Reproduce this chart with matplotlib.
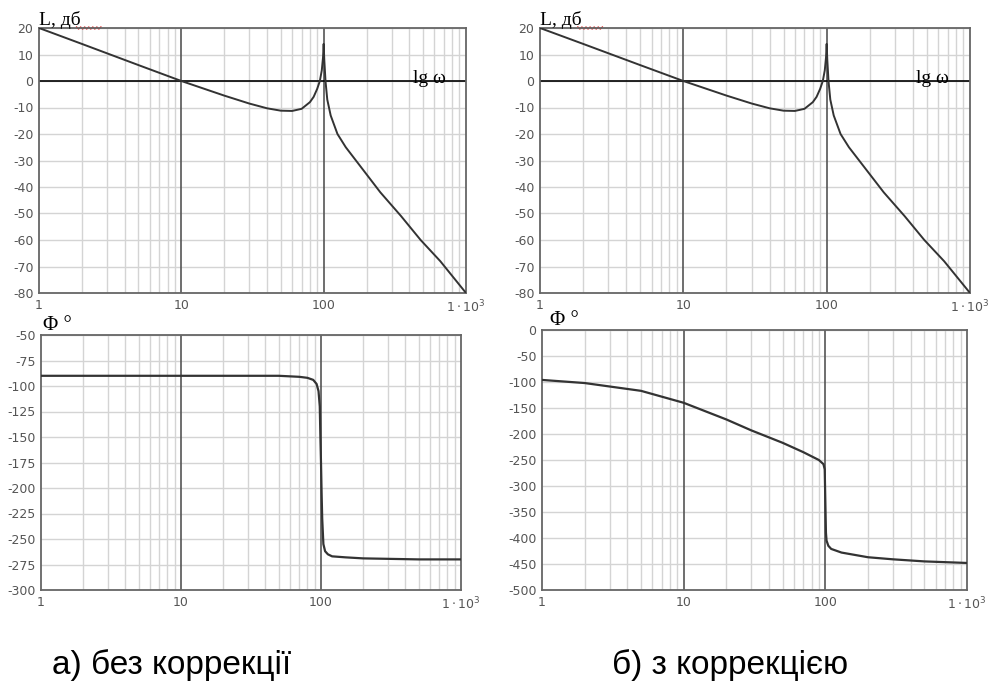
import numpy as np
import matplotlib.pyplot as plt
from matplotlib.lines import Line2D

plt.rcParams['axes.unicode_minus'] = False

# magnitude, dB (same for both cases)
w_mag = [1, 2, 5, 10, 20, 30, 40, 50, 60, 70, 80, 85, 90, 94, 97, 99, 100, 101, 103, 106,
         112, 125, 143, 180, 250, 350, 480, 660, 1000]
L_mag = [20, 14, 6, 0, -5.5, -8.5, -10.3, -11.2, -11.3, -10.5, -8, -6, -3, 0, 4, 9, 14, 8, 0, -7,
         -13, -20, -25, -32, -42, -51, -60, -68, -80]

# phase without correction, deg
w_ph_a = [1, 10, 50, 70, 80, 88, 93, 96, 98, 99, 100, 101, 102, 104, 107, 112, 120, 150, 200, 500, 1000]
ph_a = [-90, -90, -90, -91, -92, -94, -98, -105, -120, -150, -175, -205, -230, -255, -262, -265,
        -267, -268, -269, -270, -270]

# phase with correction, deg
w_ph_b = [1, 2, 5, 10, 20, 30, 50, 70, 90, 97, 99, 100, 101, 102, 105, 110, 130, 200, 300, 500, 1000]
ph_b = [-96, -102, -117, -140, -172, -193, -217, -235, -250, -258, -268, -330, -390, -405, -415,
        -421, -428, -437, -441, -445, -448]

mag_ticks = list(range(20, -81, -10))
pha_ticks = list(range(-50, -301, -25))
phb_ticks = list(range(0, -501, -50))

xtick_vals = [1, 10, 100, 1000]
xtick_labels = ['1', '10', '100', r'$1\cdot10^3$']

fig = plt.figure(figsize=(9.9, 6.93), dpi=100)

boxes = {
    'ta': [39 / 990, 1 - 293 / 693, 427 / 990, 265 / 693],
    'tb': [540 / 990, 1 - 293 / 693, 430 / 990, 265 / 693],
    'ba': [41 / 990, 1 - 590 / 693, 420 / 990, 255 / 693],
    'bb': [542 / 990, 1 - 590 / 693, 425 / 990, 260 / 693],
}


def style_axes(ax, yticks):
    ax.set_xscale('log')
    ax.set_xlim(1, 1000)
    ax.set_ylim(yticks[-1], yticks[0])
    ax.set_yticks(yticks)
    ax.set_xticks(xtick_vals)
    ax.set_xticklabels(xtick_labels)
    ax.xaxis.set_minor_formatter(plt.NullFormatter())
    ax.tick_params(which='both', length=0, labelsize=9, colors='#555555', pad=4)
    for sp in ax.spines.values():
        sp.set_color('#666666')
        sp.set_linewidth(1.3)
    # light grid
    for y in yticks:
        ax.axhline(y, color='#d4d4d4', lw=1, zorder=0)
    for dec in [1, 10, 100]:
        for k in range(2, 10):
            ax.axvline(dec * k, color='#d4d4d4', lw=1, zorder=0)
    for d in [10, 100]:
        ax.axvline(d, color='#555555', lw=1.2, zorder=1)


def squiggle(ax, x0, x1, y):
    xs = np.linspace(x0, x1, 13)
    ys = y + np.where(np.arange(13) % 2 == 0, 0.004, -0.004)
    ax.add_line(Line2D(xs, ys, transform=ax.transAxes, color='#dd2222', lw=0.9, clip_on=False))


for key in ['ta', 'tb']:
    ax = fig.add_axes(boxes[key])
    style_axes(ax, mag_ticks)
    ax.axhline(0, color='black', lw=1.2, zorder=1)
    ax.plot(w_mag, L_mag, color='#333333', lw=1.4, zorder=3)
    ax.text(0.875, 0.81, 'lg ω', transform=ax.transAxes, fontsize=14,
            family='Liberation Serif', ha='left', va='center')
    ax.text(0.0, 0.995, 'L, дб', transform=ax.transAxes, fontsize=14,
            family='Liberation Serif', ha='left', va='bottom')
    squiggle(ax, 0.088, 0.145, 1.0)

ax = fig.add_axes(boxes['ba'])
style_axes(ax, pha_ticks)
ax.plot(w_ph_a, ph_a, color='#333333', lw=1.6, zorder=3)
ax.text(0.005, 1.0, 'Φ °', transform=ax.transAxes, fontsize=15,
        family='Liberation Serif', ha='left', va='bottom')

ax = fig.add_axes(boxes['bb'])
style_axes(ax, phb_ticks)
ax.plot(w_ph_b, ph_b, color='#333333', lw=1.6, zorder=3)
ax.text(0.02, 1.0, 'Φ °', transform=ax.transAxes, fontsize=15,
        family='Liberation Serif', ha='left', va='bottom')

fig.text(52 / 990, 1 - 665 / 693, 'а) без коррекції', fontsize=24,
         family='Liberation Sans', ha='left', va='center')
fig.text(612 / 990, 1 - 665 / 693, 'б) з коррекцією', fontsize=24,
         family='Liberation Sans', ha='left', va='center')

fig.savefig('out.png', dpi=100)
